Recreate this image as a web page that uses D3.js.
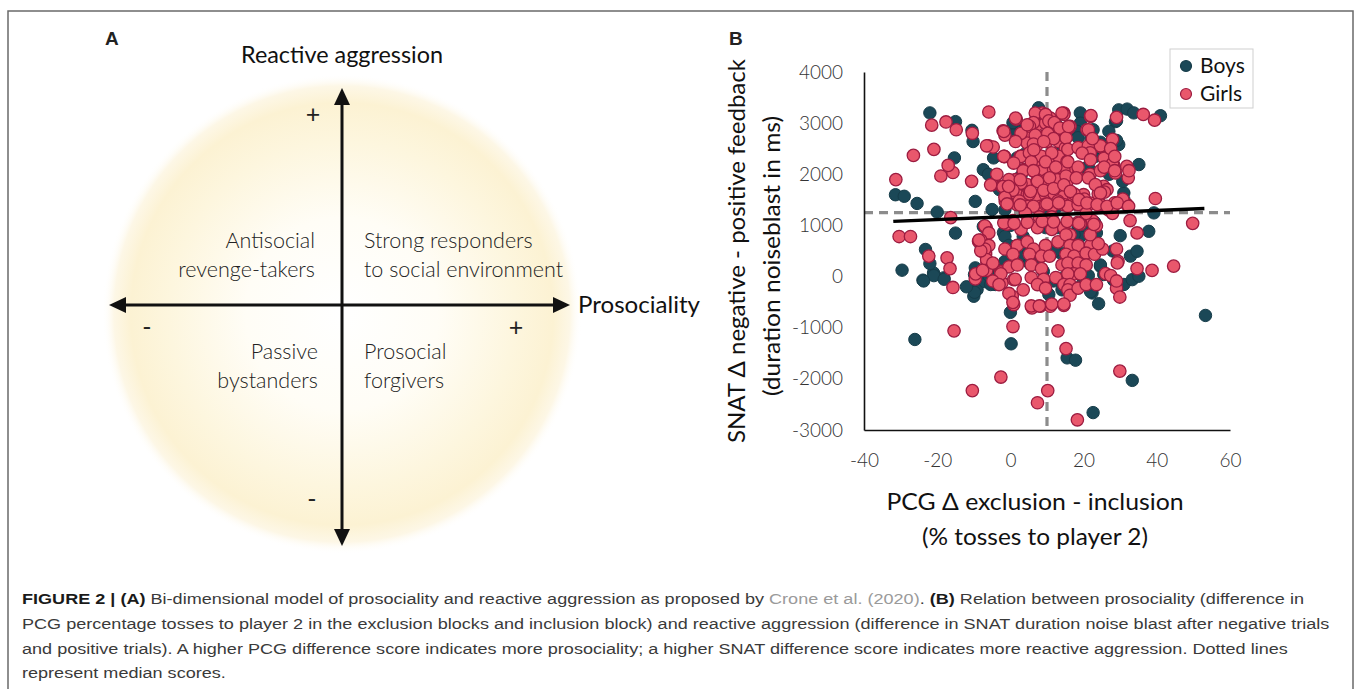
<!DOCTYPE html>
<html><head><meta charset="utf-8">
<script src="https://cdn.jsdelivr.net/npm/d3@7"></script>
<style>body{margin:0;background:#fff;}svg{display:block;}</style>
</head><body>
<svg id="c" width="1357" height="689"></svg>
<script>
// ---------------- DATA ----------------
const xTicks = [-40, -20, 0, 20, 40, 60];
const yTicks = [-3000, -2000, -1000, 0, 1000, 2000, 3000, 4000];
const seriesNames = ["Boys", "Girls"];
const medianX = 10;
const medianY = 1250;
const fitLine = [[-32, 1080], [53, 1330]];

const boys = [
[-22,3200],[-15,3030],[-10.5,2860],[-10.2,2640],[-15.3,2320],[-7.4,2090],[-31.4,1600],[-29,1570],[-25.5,1430],[-20,1260],
[-9.6,1470],[-15,850],[-5,1310],[-23.2,530],[7.7,3300],[1.4,2935],[19.1,3200],[19.1,3000],[1.8,2320],[-4.6,2320],
[-1.9,860],[-7.4,980],[12.3,3000],[1.8,2840],[18.2,2840],[29.6,3260],[31.9,3275],[33.7,3200],[41,3145],[28.7,3030],
[26.9,2840],[29.6,2580],[35.1,2190],[20.5,2120],[23.2,2350],[31,1635],[31,1505],[39.2,1245],[37.8,885],[1.8,1890],
[-29.6,125],[-23.9,-70],[-21,70],[-18.2,-25],[-22,255],[-10,-385],[-9.1,-255],[-9.6,170],[-4.1,-155],[0,-700],
[-26.1,-1230],[0.2,-1315],[10.5,-350],[15.5,-1590],[17.8,-1635],[22.6,-2660],[24.1,-530],[22.3,-320],[24.6,200],[25.5,40],
[28.2,-70],[31,-155],[33.3,-60],[35.1,7],[32.8,400],[34.6,495],[53.3,-760],[33.3,-2030],[-20.9,18],[-23.7,-86],
[-18.1,-53],[-9.8,41],[-9.8,-307],[-7,-98],[-3.7,121],[-1.5,297],[-1.5,1305],[0.7,1514],[2.4,1687],[3.5,1410],
[2.9,1966],[0.7,3010],[0.7,2766],[21.3,2140],[24.6,2627],[23,1060],[23.5,853],[23.5,539],[24.6,227],[18.5,957],
[19.1,783],[8.5,1236],[9.6,957],[13,957],[-1.5,783],[-0.4,609],[3.5,783],[3.5,400],[5.2,262],[7.4,332],
[13.5,469],[16.3,609],[17.4,820],[11.8,-86],[14.1,-260],[19.6,-156],[21.3,20],[21.9,-295],[-5.9,20],[-5.4,-156],
[18.5,2715],[22.6,2871],[26.8,2174],[30.7,1862],[29,3047],[29,2662],[4,2400],[6,2700],[10,3100],[14,2500],
[22,2700],[25,2500],[27,2000],[-3,1700],[-6,2000],[0,1000],[5,500],[9,100],[15,0],[12,500],
[16,800],[20,1000],[28,500],[30,800],[12,1300],[4,1300],[-8,600],[-12,-200]
];

const girls = [
[-31.3,1896],[-30.4,783],[-27.3,783],[-26.5,2369],[-21.5,2961],[-17.6,3023],[-20.9,2488],[-14.8,2871],[-10.4,2801],[-19,1966],
[-15.7,2035],[-17,2174],[-10.6,1862],[-5.9,3218],[-16.3,1152],[-22.3,400],[-17.3,365],[-16.5,156],[-15.7,-213],[-15.4,-1061],
[-2.6,-1965],[-10.4,-2230],[0.7,-977],[10.2,-2230],[7.4,-2467],[18.3,-2801],[13,-1061],[15.2,-1408],[29.9,-1848],[44.6,205],
[49.8,1041],[39.6,1527],[38.7,121],[34.6,156],[34.6,853],[32.7,1095],[36.3,3170],[39.4,3058],[29,3113],[27.9,2683],
[32.2,1931],[29,1430],[29,539],[29.4,297],[29,-227],[29.9,-400],[-2,2851],[-6,2558],[-4.7,2533],[-1.6,2344],
[-5,1797],[-6.6,951],[-6.8,625],[-6.8,469],[-8.7,690],[-9.6,-45],[-6.8,430],[-6.4,267],[-2.7,104],[-2.3,-123],
[0.9,-59],[0.5,-385],[0.9,-547],[5.9,-612],[8.2,-580],[10.9,-580],[14.6,-566],[26,59],[29.2,267],[21.9,3131],
[20.9,2871],[24.6,2545],[18.7,2513],[26.9,2318],[28.2,2187],[28.7,2025],[25.5,1764],[26.4,1699],
[8.7,3197],[10.9,3099],[14.6,3197],[7.3,2968],[9.6,3002],[13.2,2904],[5.9,2773],[9.1,2740],[11.8,2773],[15.9,2904],
[4.6,2611],[7.3,2578],[10,2642],[13.2,2642],[15,2513],[2.7,2350],[5.5,2318],[8.2,2285],[10.9,2285],[13.2,2350],
[15.5,2252],[16.9,2090],[3.6,2090],[6.4,2057],[9.1,2090],[11.8,2090],[14.6,2090],[1.4,1894],[4.6,1797],[7.3,1862],
[10,1894],[12.8,1894],[15.5,1862],[18.2,1959],[-2.3,1764],[0,1666],[1.8,1601],[4.6,1601],[7.3,1568],[9.6,1601],
[11.8,1635],[14.6,1568],[17.3,1568],[20,1601],[-1.4,1470],[1.8,1406],[5,1373],[8.2,1373],[11.4,1373],[14.6,1406],
[18.2,1406],[21.9,1439],[24.1,1406],
[6.8,3197],[9.6,3170],[10.5,3045],[14.6,3170],[22,3148],[1.6,3080],[6.3,3010],[12,3010],
[5.2,2939],[10.2,2801],[13.5,2904],[16.3,2939],[2.9,2801],[6.8,2766],[15.2,2711],[11.8,2697],[6.3,2592],[9.1,2641],
[-1.5,2766],[-1.7,2350],[-6.5,2557],
[2.9,2350],[5.2,2418],[8.5,2350],[11.3,2418],[15.7,2488],[18.5,2523],[21.3,2557],[24.6,2557],[21.8,2418],[25.6,2314],
[5.7,2244],[9.6,2244],[12.4,2140],[15.7,2244],[18.5,2140],[21.8,2000],[24.6,2070],[27.9,2209],[25.6,2140],[28.5,2070],
[-3.7,2000],[-0.4,1896],[3.5,2070],[6.3,2070],[2.9,1826],[7.4,1862],[10.7,1931],[15.2,1966],[18,1931],[21.3,1931],
[-5.4,1793],[-2,1758],[0.7,1687],[5.2,1617],[9.1,1687],[11.8,1722],[14.6,1793],[17.4,1617],[20.2,1514],[24.6,1410],[28.5,1443],[31.8,1410],
[-1.5,1549],[2.4,1478],[6.3,1375],[9.6,1410],[13,1478],[15.7,1375],[18.5,1410],[21.3,1410],[4.1,1236],[7.9,1166],[11.3,1166],
[0.7,1095],[-0.9,1027],[-7,992],[-5.9,853],[2.9,922],[7.4,957],[11.3,922],[14.6,957],[16.3,818],[19.1,1027],[22.4,1095],[23.5,992],
[-8.1,713],[-5.9,609],[-1.5,539],[1.9,609],[4.6,678],[6.3,539],[9.6,609],[13,678],[15.2,818],[16.3,609],[18.5,609],[21.9,609],
[-7,539],[-6.5,332],[-6.5,121],[-2.6,88],[-0.4,191],
[0.7,436],[5.2,436],[8.5,400],[10.7,400],[15.2,436],[17.4,400],[20.7,457],[23,436],[25.2,539],
[1.9,227],[5.7,227],[8.5,156],[14.1,227],[15.7,262],[18.5,262],[20.7,227],[17.4,53],[15.7,53],[19.1,53],
[1.3,-53],[5.7,-18],[9.1,-53],[12.4,-18],[14.6,-156],[16.3,-156],[15.7,-260],[16.3,-365],[18.5,-227],
[-0.4,-330],[0.7,-504],[3.5,-260],[7.4,-156],[9.6,-227],[5.7,-574],[7.9,-574],[11.3,-539],[14.6,-539],
[-4.8,262],[-2.6,53],[-4.8,-86],[-3.1,-156],[-8.1,504],[-9.5,53],[-7.6,121],[-8.6,713],
[24,644],[26.8,1305],[27.9,1236],[24,1617],[25.7,1652],[20.7,1236],[18.5,1060],[21.8,818],[20.7,-156],[23.5,-156],[27.4,20],[29,-86],
[21.3,2871],[22.4,2697],[27.4,2502],[28.5,2350],[31.8,2154],[32.4,2070],[30.7,1514],
[14.1,3197],[1.4,3099],[15.9,2935],[4.6,2968],[-1.8,2838],[1.4,2642],[19.6,2415],[21.9,2285],[6.4,2480],[23.2,1797],
[24.6,1635],[-1.8,2350],[0.9,2220],[2.7,1894],[-0.5,1764],[5.5,1666],[16.4,1666],[18.7,1504],[20.9,1439],[23.7,1406],
[26.4,1373],[29.2,1439],[32.3,1373],[-0.9,1420],[2.7,1400],[10,1420],[13.2,1440],[-1.8,1050],[1,1040],[4.6,1060],
[8.7,1080],[11.8,1070],[15.5,1080],[18.7,1040],[22.8,1020]
];

const panelATitleY = "Reactive aggression";
const panelATitleX = "Prosociality";
const quadrantsLeft = [["Antisocial", "revenge-takers"], ["Passive", "bystanders"]];
const quadrantsRight = [["Strong responders", "to social environment"], ["Prosocial", "forgivers"]];
const yTitle = ["SNAT \u0394 negative - positive feedback", "(duration noiseblast in ms)"];
const xTitle = ["PCG \u0394 exclusion - inclusion", "(% tosses to player 2)"];

const captionLines = [
  [{t:"FIGURE 2 | (A)", b:1}, {t:" Bi-dimensional model of prosociality and reactive aggression as proposed by "}, {t:"Crone et al. (2020)", g:1}, {t:". "}, {t:"(B)", b:1}, {t:" Relation between prosociality (difference in"}],
  [{t:"PCG percentage tosses to player 2 in the exclusion blocks and inclusion block) and reactive aggression (difference in SNAT duration noise blast after negative trials"}],
  [{t:"and positive trials). A higher PCG difference score indicates more prosociality; a higher SNAT difference score indicates more reactive aggression. Dotted lines"}],
  [{t:"represent median scores."}]
];

// ---------------- DRAW ----------------
const svg = d3.select("#c");
const FONT = "Lato, 'Open Sans', sans-serif";
const defs = svg.append("defs");

// border
svg.append("path").attr("d", "M8,689 V11 H1353 V689").attr("fill", "none").attr("stroke", "#6a6a6a").attr("stroke-width", 1.5);

// ---- Panel A ----
const grad = defs.append("radialGradient").attr("id", "glow").attr("cx", 0.5).attr("cy", 0.5).attr("r", 0.5);
[[0, "#ffffff", 1], [0.4, "#fffdf6", 1], [0.72, "#fdf6de", 1], [0.88, "#fcf2d3", 1], [0.95, "#fdf7e6", 1], [1, "#ffffff", 0]]
  .forEach(s => grad.append("stop").attr("offset", s[0]).attr("stop-color", s[1]).attr("stop-opacity", s[2]));
svg.append("circle").attr("cx", 342).attr("cy", 314).attr("r", 240).attr("fill", "url(#glow)");

svg.append("text").attr("x", 105).attr("y", 45).text("A")
  .attr("font-family", "'Liberation Sans', Arial, sans-serif").attr("font-weight", "bold").attr("font-size", 19).attr("fill", "#222");

const ax = 342, ay = 305;
svg.append("line").attr("x1", ax).attr("x2", ax).attr("y1", 100).attr("y2", 534).attr("stroke", "#111").attr("stroke-width", 3);
svg.append("line").attr("x1", 122).attr("x2", 557).attr("y1", ay).attr("y2", ay).attr("stroke", "#111").attr("stroke-width", 3);
const heads = [
  [[ax, 88], [ax - 8, 105], [ax + 8, 105]],
  [[ax, 546], [ax - 8, 529], [ax + 8, 529]],
  [[109, ay], [126, ay - 8], [126, ay + 8]],
  [[570, ay], [553, ay - 8], [553, ay + 8]]
];
svg.selectAll(".hd").data(heads).enter().append("polygon")
  .attr("points", d => d.map(p => p.join(",")).join(" ")).attr("fill", "#111");

svg.append("text").attr("x", 342).attr("y", 63).attr("text-anchor", "middle").text(panelATitleY)
  .attr("font-family", FONT).attr("font-size", 23).attr("fill", "#111").attr("textLength", 202).attr("lengthAdjust", "spacingAndGlyphs");
svg.append("text").attr("x", 578).attr("y", 313).text(panelATitleX)
  .attr("font-family", FONT).attr("font-size", 23).attr("fill", "#111").attr("textLength", 122).attr("lengthAdjust", "spacingAndGlyphs");

const signs = [["+", 313, 123], ["-", 312, 508], ["-", 147, 336], ["+", 516, 336]];
svg.selectAll(".sg").data(signs).enter().append("text")
  .attr("x", d => d[1]).attr("y", d => d[2]).attr("text-anchor", "middle").text(d => d[0])
  .attr("font-family", FONT).attr("font-size", 25).attr("fill", "#222");

const qFont = s => s.attr("font-family", FONT).attr("font-weight", 300).attr("font-size", 21.5).attr("fill", "#222");
[[quadrantsLeft[0], 315, 248], [quadrantsLeft[1], 318, 359]].forEach(q => {
  q[0].forEach((ln, i) => svg.append("text").attr("x", q[1]).attr("y", q[2] + i * 28.5).attr("text-anchor", "end").text(ln).call(qFont));
});
[[quadrantsRight[0], 364, 248], [quadrantsRight[1], 364, 359]].forEach(q => {
  q[0].forEach((ln, i) => svg.append("text").attr("x", q[1]).attr("y", q[2] + i * 28.5).attr("text-anchor", "start").text(ln).call(qFont));
});

// ---- Panel B ----
svg.append("text").attr("x", 729).attr("y", 45).text("B")
  .attr("font-family", "'Liberation Sans', Arial, sans-serif").attr("font-weight", "bold").attr("font-size", 19).attr("fill", "#222");

const x = d3.scaleLinear().domain([-40, 60]).range([864, 1230]);
const y = d3.scaleLinear().domain([-3000, 4000]).range([430, 72]);

// median dashed lines (behind points)
svg.append("line").attr("x1", x(medianX)).attr("x2", x(medianX)).attr("y1", y(4000)).attr("y2", y(-3000))
  .attr("stroke", "#8c8c8c").attr("stroke-width", 3.2).attr("stroke-dasharray", "9,6");
svg.append("line").attr("x1", x(-40)).attr("x2", x(60)).attr("y1", y(medianY)).attr("y2", y(medianY))
  .attr("stroke", "#8c8c8c").attr("stroke-width", 3.2).attr("stroke-dasharray", "9,6");

const gy = svg.append("g").attr("transform", `translate(${x(-40)},0)`)
  .call(d3.axisLeft(y).tickValues(yTicks).tickSize(0).tickSizeOuter(0).tickPadding(21).tickFormat(d => String(d)));
const gx = svg.append("g").attr("transform", `translate(0,${y(-3000)})`)
  .call(d3.axisBottom(x).tickValues(xTicks).tickSize(0).tickSizeOuter(0).tickPadding(24).tickFormat(d => String(d)));
[gx, gy].forEach(g => {
  g.select(".domain").attr("stroke", "#111").attr("stroke-width", 1.6);
  g.selectAll("text").attr("font-family", FONT).attr("font-weight", 300).attr("font-size", 19).attr("fill", "#333");
});

// points
svg.append("g").selectAll("circle").data(boys).enter().append("circle")
  .attr("cx", d => x(d[0])).attr("cy", d => y(d[1])).attr("r", 6.2)
  .attr("fill", "#1b4857").attr("stroke", "#163c49").attr("stroke-width", 1);
svg.append("g").selectAll("circle").data(girls).enter().append("circle")
  .attr("cx", d => x(d[0])).attr("cy", d => y(d[1])).attr("r", 6.2)
  .attr("fill", "#e9576c").attr("stroke", "#9c1c40").attr("stroke-width", 1.3);

// fit line
svg.append("line").attr("x1", x(fitLine[0][0])).attr("y1", y(fitLine[0][1]))
  .attr("x2", x(fitLine[1][0])).attr("y2", y(fitLine[1][1]))
  .attr("stroke", "#000").attr("stroke-width", 3.4);

// axis titles
const titleFont = s => s.attr("font-family", FONT).attr("font-size", 23).attr("fill", "#111").attr("text-anchor", "middle");
svg.append("text").attr("transform", "translate(745,251) rotate(-90)").text(yTitle[0]).call(titleFont)
  .attr("textLength", 384).attr("lengthAdjust", "spacingAndGlyphs");
svg.append("text").attr("transform", "translate(780,256) rotate(-90)").text(yTitle[1]).call(titleFont)
  .attr("textLength", 280).attr("lengthAdjust", "spacingAndGlyphs");
svg.append("text").attr("x", 1035).attr("y", 510).text(xTitle[0]).call(titleFont)
  .attr("textLength", 297).attr("lengthAdjust", "spacingAndGlyphs");
svg.append("text").attr("x", 1035).attr("y", 545).text(xTitle[1]).call(titleFont)
  .attr("textLength", 226).attr("lengthAdjust", "spacingAndGlyphs");

// legend
svg.append("rect").attr("x", 1170).attr("y", 49).attr("width", 83).attr("height", 59)
  .attr("fill", "#fff").attr("stroke", "#cfcfcf").attr("stroke-width", 1);
const colors = [["#1b4857", "#163c49"], ["#e9576c", "#9c1c40"]];
seriesNames.forEach((nm, i) => {
  const cy = 66 + i * 28;
  svg.append("circle").attr("cx", 1186).attr("cy", cy).attr("r", 5.5).attr("fill", colors[i][0]).attr("stroke", colors[i][1]).attr("stroke-width", 1.2);
  svg.append("text").attr("x", 1200).attr("y", cy + 7).text(nm)
    .attr("font-family", FONT).attr("font-size", 21).attr("fill", "#111");
});

// ---- Caption ----
const capBase = [604, 629, 654, 678];
const capNodes = captionLines.map((segs, i) => {
  const t = svg.append("text").attr("x", 0).attr("y", 0)
    .attr("font-family", "'Liberation Sans', Arial, sans-serif").attr("font-size", 15.5).attr("fill", "#3a3a3a");
  segs.forEach(s => {
    const sp = t.append("tspan").text(s.t);
    if (s.b) sp.attr("font-weight", "bold").attr("fill", "#1a1a1a");
    if (s.g) sp.attr("fill", "#9a9a9a");
  });
  return t;
});
const w2 = capNodes[1].node().getComputedTextLength();
const sx = 1308 / w2;
capNodes.forEach((t, i) => t.attr("transform", `translate(22,${capBase[i]}) scale(${sx},1)`));
</script>
</body></html>
